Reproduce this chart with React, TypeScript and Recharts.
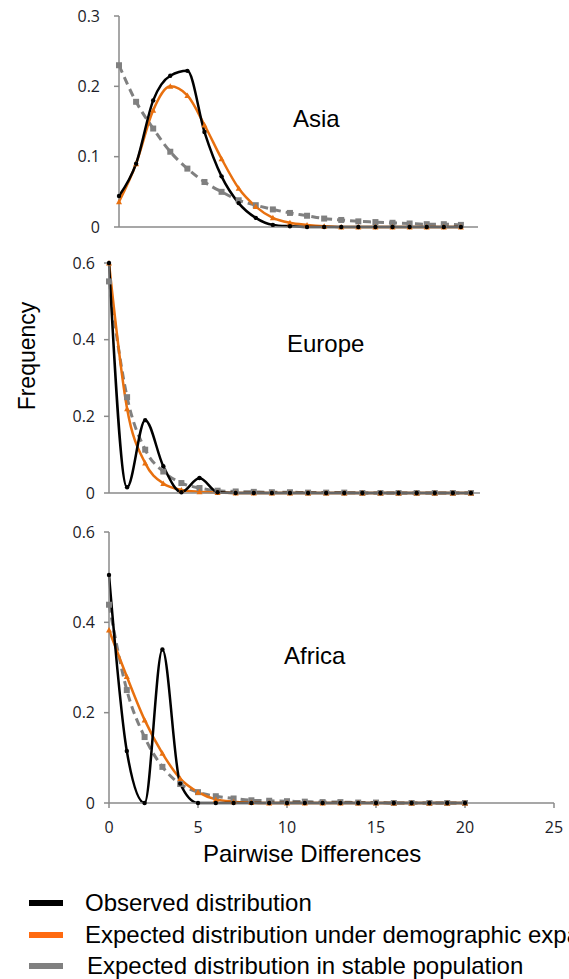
import { LineChart, Line, XAxis, YAxis } from 'recharts';

const DIFFS = [0, 1, 2, 3, 4, 5, 6, 7, 8, 9, 10, 11, 12, 13, 14, 15, 16, 17, 18, 19, 20];

const asiaObserved = [0.044, 0.09, 0.18, 0.215, 0.222, 0.135, 0.072, 0.034, 0.013, 0.003, 0.001, 0, 0, 0, 0, 0, 0, 0, 0, 0, 0];
const asiaExpansion = [0.036, 0.09, 0.166, 0.2, 0.187, 0.145, 0.097, 0.055, 0.029, 0.013, 0.006, 0.003, 0.001, 0, 0, 0, 0, 0, 0, 0, 0];
const asiaStable = [0.23, 0.178, 0.14, 0.107, 0.083, 0.064, 0.05, 0.038, 0.031, 0.025, 0.02, 0.016, 0.012, 0.01, 0.008, 0.007, 0.006, 0.005, 0.004, 0.004, 0.003];

const europeObserved = [0.6, 0.015, 0.19, 0.07, 0.002, 0.039, 0.002, 0, 0, 0, 0, 0, 0, 0, 0, 0, 0, 0, 0, 0, 0];
const europeExpansion = [0.6, 0.22, 0.078, 0.025, 0.008, 0.003, 0.001, 0, 0, 0, 0, 0, 0, 0, 0, 0, 0, 0, 0, 0, 0];
const europeStable = [0.552, 0.25, 0.113, 0.056, 0.026, 0.013, 0.006, 0.004, 0.003, 0.002, 0.002, 0.001, 0.001, 0.001, 0, 0, 0, 0, 0, 0, 0];

const africaObserved = [0.505, 0.115, 0, 0.34, 0.043, 0, 0, 0, 0, 0, 0, 0, 0, 0, 0, 0, 0, 0, 0, 0, 0];
const africaExpansion = [0.383, 0.28, 0.184, 0.11, 0.054, 0.024, 0.008, 0.003, 0.001, 0, 0, 0, 0, 0, 0, 0, 0, 0, 0, 0, 0];
const africaStable = [0.439, 0.25, 0.146, 0.08, 0.042, 0.024, 0.015, 0.01, 0.006, 0.005, 0.004, 0.003, 0.002, 0.002, 0.001, 0.001, 0, 0, 0, 0, 0];

const X_TICKS = [0, 5, 10, 15, 20];
const X_TICKS_BOTTOM = [0, 5, 10, 15, 20, 25];
const Y_TICKS_ASIA = [0, 0.1, 0.2, 0.3];
const Y_TICKS_WIDE = [0, 0.2, 0.4, 0.6];

const LEGEND = [
  { label: 'Observed distribution', color: '#000000' },
  { label: 'Expected distribution under demographic expansion', color: '#FF6A10' },
  { label: 'Expected distribution in stable population', color: '#808080' },
];

const ORANGE = '#E8700F';
const GRAY = '#808080';
const AXIS = '#8a8a8a';
const TEXT_FONT = '"Liberation Sans", Arial, sans-serif';
const TICK_FONT = '"Open Sans", sans-serif';

const buildRows = (observed: number[], expansion: number[], stable: number[]) =>
  DIFFS.map((x, i) => ({ x, observed: observed[i], expansion: expansion[i], stable: stable[i] }));

const BlackDot = (p: any) => <circle key={`b-${p.index}`} cx={p.cx} cy={p.cy} r={2.2} fill="#000" />;
const OrangeDot = (p: any) => (
  <path
    key={`o-${p.index}`}
    d={`M${p.cx},${p.cy - 3} L${p.cx + 3},${p.cy + 2.5} L${p.cx - 3},${p.cy + 2.5} Z`}
    fill={ORANGE}
  />
);
const GrayDot = (p: any) => <rect key={`g-${p.index}`} x={p.cx - 3} y={p.cy - 3} width={6} height={6} fill={GRAY} />;

const tickStyle = { fontFamily: TICK_FONT, fontSize: 16, fill: '#1c1c28' };

interface PanelProps {
  rows: ReturnType<typeof buildRows>;
  width: number;
  height: number;
  margin: { top: number; right: number; bottom: number; left: number };
  yAxisWidth: number;
  yMax: number;
  yTicks: number[];
  yTickMargin: number;
  xMax: number;
  xTicks: number[];
  showXLabels: boolean;
  xAxisHeight: number;
}

const Panel = ({ rows, width, height, margin, yAxisWidth, yMax, yTicks, yTickMargin, xMax, xTicks, showXLabels, xAxisHeight }: PanelProps) => (
  <LineChart width={width} height={height} data={rows} margin={margin}>
    <XAxis
      dataKey="x"
      type="number"
      domain={[0, xMax]}
      ticks={xTicks}
      tick={showXLabels ? tickStyle : false}
      tickSize={5}
      tickMargin={14}
      height={xAxisHeight}
      axisLine={{ stroke: AXIS, strokeWidth: 1.5 }}
      tickLine={{ stroke: AXIS, strokeWidth: 1.5 }}
      interval={0}
    />
    <YAxis
      type="number"
      domain={[0, yMax]}
      ticks={yTicks}
      width={yAxisWidth}
      tick={tickStyle}
      tickSize={5}
      tickMargin={yTickMargin}
      axisLine={{ stroke: AXIS, strokeWidth: 1.5 }}
      tickLine={{ stroke: AXIS, strokeWidth: 1.5 }}
      interval={0}
    />
    <Line type="monotone" dataKey="stable" stroke={GRAY} strokeWidth={3} strokeDasharray="8 5" dot={GrayDot} isAnimationActive={false} />
    <Line type="monotone" dataKey="expansion" stroke={ORANGE} strokeWidth={2.5} dot={OrangeDot} isAnimationActive={false} />
    <Line type="monotone" dataKey="observed" stroke="#000" strokeWidth={2.5} dot={BlackDot} isAnimationActive={false} />
  </LineChart>
);

const label = (text: string, left: number, top: number) => (
  <div style={{ position: 'absolute', left, top, fontFamily: TEXT_FONT, fontSize: 24, lineHeight: '24px', color: '#000', whiteSpace: 'nowrap' }}>
    {text}
  </div>
);

export default function App() {
  return (
    <div style={{ position: 'absolute', left: 0, top: 0, width: 569, height: 979, overflow: 'hidden', background: '#fff' }}>
      <div style={{ position: 'absolute', left: 0, top: 0 }}>
        <Panel
          rows={buildRows(asiaObserved, asiaExpansion, asiaStable)}
          width={569}
          height={240}
          margin={{ top: 16, right: 91, bottom: 3, left: 0 }}
          yAxisWidth={119}
          yMax={0.3}
          yTicks={Y_TICKS_ASIA}
          yTickMargin={14}
          xMax={21}
          xTicks={X_TICKS}
          showXLabels={false}
          xAxisHeight={10}
        />
      </div>
      <div style={{ position: 'absolute', left: 0, top: 250 }}>
        <Panel
          rows={buildRows(europeObserved, europeExpansion, europeStable)}
          width={569}
          height={260}
          margin={{ top: 13, right: 89, bottom: 7, left: 0 }}
          yAxisWidth={109}
          yMax={0.6}
          yTicks={Y_TICKS_WIDE}
          yTickMargin={9}
          xMax={20.5}
          xTicks={X_TICKS}
          showXLabels={false}
          xAxisHeight={10}
        />
      </div>
      <div style={{ position: 'absolute', left: 0, top: 520 }}>
        <Panel
          rows={buildRows(africaObserved, africaExpansion, africaStable)}
          width={569}
          height={318}
          margin={{ top: 12, right: 15, bottom: 0, left: 0 }}
          yAxisWidth={109}
          yMax={0.6}
          yTicks={Y_TICKS_WIDE}
          yTickMargin={9}
          xMax={25}
          xTicks={X_TICKS_BOTTOM}
          showXLabels={true}
          xAxisHeight={35}
        />
      </div>

      {label('Asia', 293, 107)}
      {label('Europe', 287, 332)}
      {label('Africa', 284, 644)}
      {label('Pairwise Differences', 203, 842)}

      <div
        style={{
          position: 'absolute',
          left: 27,
          top: 356,
          transform: 'translate(-50%, -50%) rotate(-90deg)',
          fontFamily: TEXT_FONT,
          fontSize: 23,
          lineHeight: '23px',
          whiteSpace: 'nowrap',
        }}
      >
        Frequency
      </div>

      {LEGEND.map((item, i) => (
        <div key={item.label} style={{ position: 'absolute', left: 29, top: 891 + i * 31.5, display: 'flex', alignItems: 'center', whiteSpace: 'nowrap' }}>
          <div style={{ width: 34, height: 6, background: item.color, marginRight: i === 2 ? 24 : 22 }} />
          <span style={{ fontFamily: TEXT_FONT, fontSize: 24, lineHeight: '24px' }}>{item.label}</span>
        </div>
      ))}
    </div>
  );
}
